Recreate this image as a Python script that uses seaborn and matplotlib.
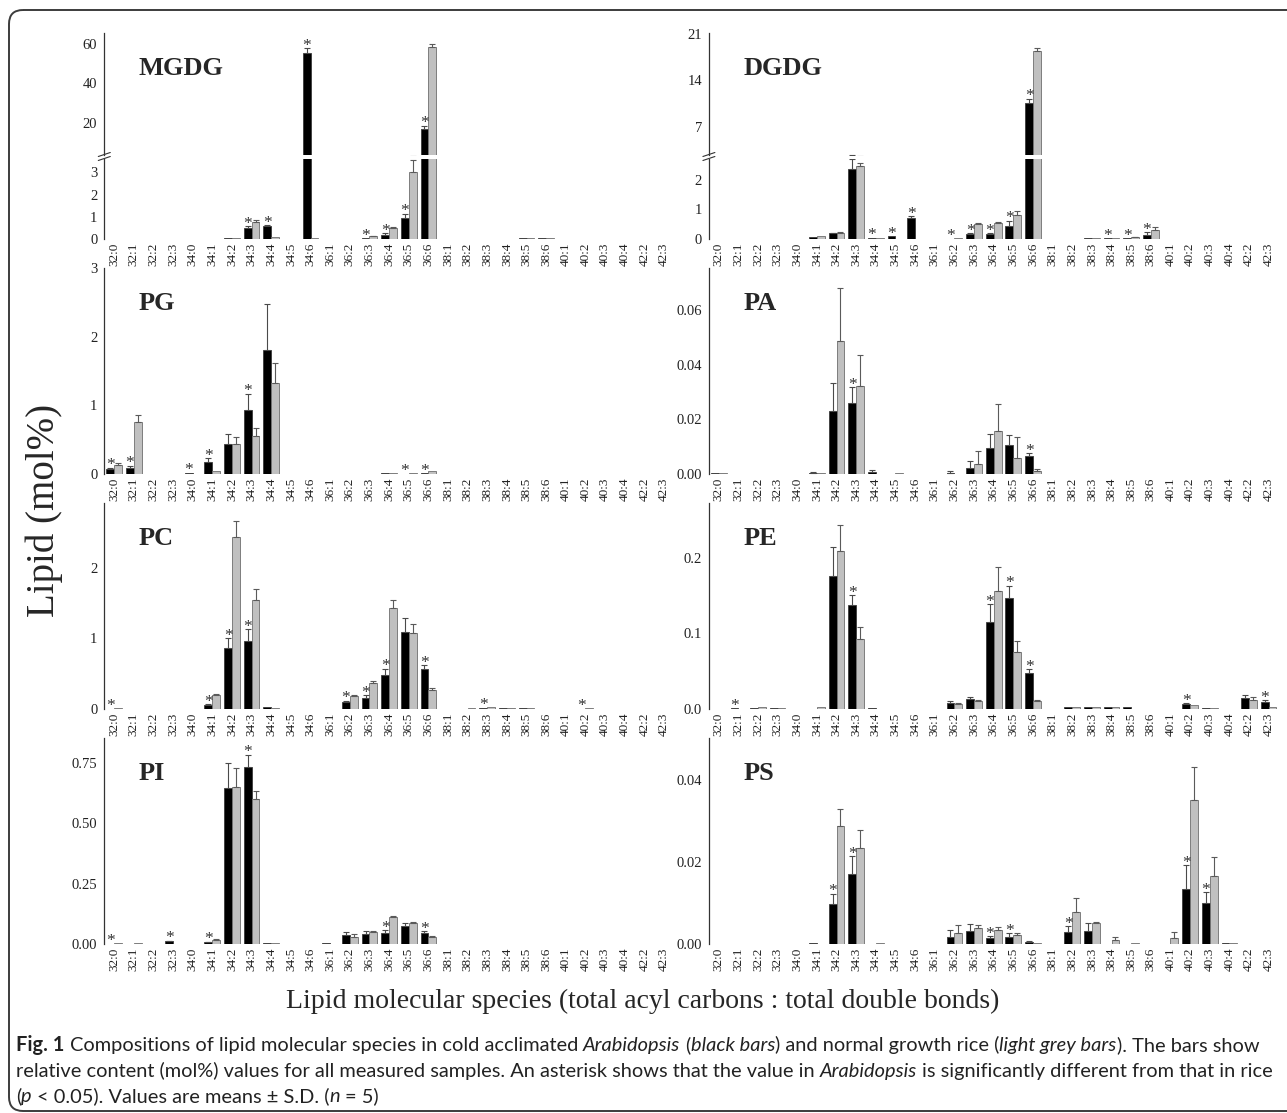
import numpy as np
import pandas as pd
import seaborn as sns
import matplotlib
matplotlib.use('Agg')
import matplotlib.pyplot as plt
from matplotlib.patches import FancyBboxPatch
from matplotlib.ticker import FormatStrFormatter

N = None

# =========================
#  DATA (mol%)
# =========================

CATEGORIES = ['32:0', '32:1', '32:2', '32:3',
              '34:0', '34:1', '34:2', '34:3', '34:4', '34:5', '34:6',
              '36:1', '36:2', '36:3', '36:4', '36:5', '36:6',
              '38:1', '38:2', '38:3', '38:4', '38:5', '38:6',
              '40:1', '40:2', '40:3', '40:4',
              '42:2', '42:3']
GROUPS = ['Arabidopsis', 'rice']

MGDG_ARA = [N, N, N, N, N, 0.02, 0.04, 0.49, 0.58, N, 55.1, 0.01, 0.01, 0.03, 0.17, 0.94, 17.1,
            N, N, 0.01, 0.02, 0.03, 0.03, N, N, N, N, N, N]
MGDG_ARA_SD = [0, 0, 0, 0, 0, 0, 0, 0.09, 0.05, 0, 2.5, 0, 0, 0, 0.08, 0.2, 1.6,
               0, 0, 0, 0, 0, 0, 0, 0, 0, 0, 0, 0]
MGDG_RICE = [N, N, N, N, N, 0.02, 0.03, 0.77, 0.1, 0.02, 0.03, 0.01, 0.02, 0.12, 0.5, 3.0, 58.3,
             N, N, 0.01, 0.01, 0.04, 0.04, N, N, N, N, N, N]
MGDG_RICE_SD = [0, 0, 0, 0, 0, 0, 0, 0.07, 0, 0, 0, 0, 0, 0.01, 0.02, 0.55, 1.7,
                0, 0, 0, 0, 0, 0, 0, 0, 0, 0, 0, 0]
MGDG_STARS = ['34:3', '34:4', '34:6', '36:3', '36:4', '36:5', '36:6']

DGDG_ARA = [N, N, N, N, N, 0.08, 0.19, 2.37, 0.05, 0.09, 0.70, 0.01, 0.01, 0.16, 0.16, 0.45, 10.5,
            N, N, 0.02, 0.02, 0.02, 0.14, N, N, N, N, N, N]
DGDG_ARA_SD = [0, 0, 0, 0, 0, 0, 0.01, 0.32, 0, 0, 0.06, 0, 0, 0.04, 0.04, 0.17, 0.7,
               0, 0, 0, 0, 0, 0.09, 0, 0, 0, 0, 0, 0]
DGDG_RICE = [N, N, N, N, N, 0.09, 0.2, 2.45, 0.04, N, 0.01, 0.01, 0.04, 0.52, 0.55, 0.81, 18.5,
             N, N, 0.03, 0.03, 0.06, 0.32, N, N, N, N, N, N]
DGDG_RICE_SD = [0, 0, 0, 0, 0, 0, 0.02, 0.11, 0, 0, 0, 0, 0, 0.01, 0.01, 0.15, 0.4,
                0, 0, 0, 0, 0.02, 0.1, 0, 0, 0, 0, 0, 0]
DGDG_STARS = ['34:4', '34:5', '34:6', '36:2', '36:3', '36:4', '36:5', '36:6', '38:4', '38:5', '38:6']

PG_ARA = [0.07, 0.09, N, N, 0.02, 0.18, 0.44, 0.93, 1.8, N, N, 0.005, 0.005, 0.005, 0.01, 0.005, 0.01,
          N, N, N, N, N, N, N, N, N, N, N, N]
PG_ARA_SD = [0.02, 0.03, 0, 0, 0, 0.05, 0.14, 0.24, 0.67, 0, 0, 0, 0, 0, 0, 0, 0,
             0, 0, 0, 0, 0, 0, 0, 0, 0, 0, 0, 0]
PG_RICE = [0.13, 0.76, N, N, 0.005, 0.05, 0.44, 0.55, 1.33, N, N, 0.005, 0.005, 0.005, 0.02, 0.015, 0.04,
           N, N, N, N, N, N, N, N, N, N, N, N]
PG_RICE_SD = [0.03, 0.1, 0, 0, 0, 0, 0.1, 0.12, 0.29, 0, 0, 0, 0, 0, 0, 0, 0,
              0, 0, 0, 0, 0, 0, 0, 0, 0, 0, 0, 0]
PG_STARS = ['32:0', '32:1', '34:0', '34:1', '34:3', '36:5', '36:6']

PA_ARA = [0.0002, N, N, N, N, 0.0005, 0.023, 0.0259, 0.0009, N, N, N, 0.0005, 0.0022, 0.0095, 0.0106, 0.0065,
          N, N, N, N, N, N, N, N, N, N, N, N]
PA_ARA_SD = [0, 0, 0, 0, 0, 0.0002, 0.0104, 0.0059, 0.0006, 0, 0, 0, 0.0007, 0.0025, 0.0053, 0.0036, 0.0011,
             0, 0, 0, 0, 0, 0, 0, 0, 0, 0, 0, 0]
PA_RICE = [0.0002, N, N, N, N, 0.0003, 0.0485, 0.0322, N, 0.0002, N, N, N, 0.0037, 0.0157, 0.006, 0.0011,
           N, N, N, N, N, N, N, N, N, N, N, N]
PA_RICE_SD = [0, 0, 0, 0, 0, 0, 0.0195, 0.0112, 0, 0, 0, 0, 0, 0.0048, 0.0098, 0.0076, 0.0009,
              0, 0, 0, 0, 0, 0, 0, 0, 0, 0, 0, 0]
PA_STARS = ['34:3', '36:6']

PC_ARA = [0.003, N, N, N, N, 0.06, 0.86, 0.97, 0.03, N, N, 0.005, 0.1, 0.16, 0.48, 1.09, 0.57,
          N, 0.005, 0.02, 0.015, 0.01, 0.005, N, 0.005, 0.005, 0.005, N, N]
PC_ARA_SD = [0, 0, 0, 0, 0, 0.01, 0.14, 0.16, 0, 0, 0, 0, 0.02, 0.04, 0.09, 0.2, 0.05,
             0, 0, 0, 0, 0, 0, 0, 0, 0, 0, 0, 0]
PC_RICE = [0.01, N, N, N, N, 0.2, 2.44, 1.55, 0.02, N, N, 0.005, 0.19, 0.37, 1.43, 1.075, 0.27,
           N, 0.02, 0.03, 0.015, 0.01, 0.005, N, 0.01, 0.005, 0.005, N, N]
PC_RICE_SD = [0, 0, 0, 0, 0, 0.01, 0.23, 0.15, 0, 0, 0, 0, 0.01, 0.03, 0.11, 0.125, 0.03,
              0, 0, 0, 0, 0, 0, 0, 0, 0, 0, 0, 0]
PC_STARS = ['32:0', '34:1', '34:2', '34:3', '36:2', '36:3', '36:4', '36:6', '38:3', '40:2']

PE_ARA = [0.0005, 0.001, 0.0008, 0.001, N, N, 0.175, 0.137, 0.0015, N, N, 0.0005, 0.008, 0.013, 0.115, 0.146, 0.047,
          N, 0.002, 0.002, 0.002, 0.002, 0.0005, N, 0.007, 0.0015, N, 0.014, 0.009]
PE_ARA_SD = [0, 0, 0, 0, 0, 0, 0.039, 0.013, 0, 0, 0, 0, 0.003, 0.003, 0.023, 0.017, 0.006,
             0, 0, 0, 0, 0, 0, 0, 0.001, 0, 0, 0.005, 0.003]
PE_RICE = [0.0005, 0.0005, 0.002, 0.0008, N, 0.002, 0.208, 0.092, 0.0005, N, N, 0.0005, 0.006, 0.011, 0.156, 0.075, 0.011,
           N, 0.002, 0.003, 0.002, 0.0005, 0.0005, N, 0.005, 0.001, N, 0.012, 0.002]
PE_RICE_SD = [0, 0, 0, 0, 0, 0, 0.035, 0.016, 0, 0, 0, 0, 0.002, 0.001, 0.031, 0.015, 0.001,
              0, 0, 0, 0, 0, 0, 0, 0, 0, 0, 0.004, 0]
PE_STARS = ['32:1', '34:3', '36:4', '36:5', '36:6', '40:2', '42:3']

PI_ARA = [0.001, 0.002, 0.001, 0.012, N, 0.007, 0.645, 0.733, 0.005, N, N, 0.004, 0.038, 0.042, 0.045, 0.074, 0.047,
          N, N, N, N, N, N, N, N, N, N, N, N]
PI_ARA_SD = [0, 0, 0, 0.002, 0, 0.002, 0.105, 0.05, 0, 0, 0, 0, 0.012, 0.011, 0.013, 0.011, 0.006,
             0, 0, 0, 0, 0, 0, 0, 0, 0, 0, 0, 0]
PI_RICE = [0.003, 0.003, 0.002, 0.002, N, 0.018, 0.65, 0.6, 0.005, N, N, 0.002, 0.03, 0.05, 0.11, 0.088, 0.03,
           N, N, N, N, N, N, N, N, N, N, N, N]
PI_RICE_SD = [0, 0, 0, 0, 0, 0.004, 0.078, 0.032, 0, 0, 0, 0, 0.01, 0.002, 0.007, 0.005, 0.005,
              0, 0, 0, 0, 0, 0, 0, 0, 0, 0, 0, 0]
PI_STARS = ['32:0', '32:3', '34:1', '34:3', '36:4', '36:6']

PS_ARA = [N, N, N, N, N, 0.0002, 0.0097, 0.0171, 0.0001, N, N, N, 0.0018, 0.0031, 0.0014, 0.0017, 0.0005,
          N, 0.0029, 0.0031, N, N, N, N, 0.0134, 0.0099, 0.0002, N, N]
PS_ARA_SD = [0, 0, 0, 0, 0, 0, 0.0026, 0.0043, 0, 0, 0, 0, 0.0015, 0.0018, 0.0005, 0.0009, 0.0003,
             0, 0.0015, 0.002, 0, 0, 0, 0, 0.0058, 0.0028, 0, 0, 0]
PS_RICE = [N, N, N, N, N, N, 0.0288, 0.0234, 0.0003, N, N, N, 0.0027, 0.0038, 0.0035, 0.0022, 0.0003,
           N, 0.0078, 0.005, 0.001, 0.0002, 0.0001, 0.0015, 0.0352, 0.0166, 0.0002, N, N]
PS_RICE_SD = [0, 0, 0, 0, 0, 0, 0.004, 0.0044, 0, 0, 0, 0, 0.002, 0.0008, 0.0007, 0.0004, 0,
              0, 0.0035, 0.0004, 0.0006, 0, 0, 0.0015, 0.0079, 0.0046, 0, 0, 0]
PS_STARS = ['34:2', '34:3', '36:4', '36:5', '38:2', '40:2', '40:3']

Y_LABEL = 'Lipid (mol%)'
X_LABEL = 'Lipid molecular species (total acyl carbons : total double bonds)'

# =========================
#  STYLE
# =========================

W, H = 1287, 1113
SERIF = ['Liberation Serif', 'DejaVu Serif']
SANS = ['Lato', 'DejaVu Sans']
PALETTE = {'Arabidopsis': '#000000', 'rice': '#c0c0c0'}
EDGES = {'Arabidopsis': '#3a3a3a', 'rice': '#6e6e6e'}

sns.set_style('white')
plt.rcParams['font.family'] = SERIF

fig = plt.figure(figsize=(W / 100, H / 100), dpi=100)

COL_X = [104.3, 708.9]
AX_W = 29 * 19.64
ROW_TOP = [33, 268, 503, 738]
ROW_H = 206


def px_axes(left, top, width, height):
    return fig.add_axes([left / W, 1 - (top + height) / H, width / W, height / H])


def draw_bars(ax, ara, ara_sd, rice, rice_sd):
    df = pd.DataFrame({
        'species': CATEGORIES * 2,
        'group': [GROUPS[0]] * len(CATEGORIES) + [GROUPS[1]] * len(CATEGORIES),
        'mol': [np.nan if v is None else v for v in ara + rice],
    }).dropna()
    sns.barplot(data=df, x='species', y='mol', hue='group', order=CATEGORIES,
                hue_order=GROUPS, palette=PALETTE, saturation=1, errorbar=None,
                width=0.8, legend=False, linewidth=0.6, ax=ax)
    for cont, g in zip(ax.containers, GROUPS):
        for bar in cont:
            bar.set_edgecolor(EDGES[g])

    for vals, sds, off, col in [(ara, ara_sd, -0.2, '#4a4a4a'), (rice, rice_sd, 0.2, '#5a5a5a')]:
        x = np.arange(len(CATEGORIES)) + off
        v = np.array([np.nan if a is None else a for a in vals], dtype=float)
        s = np.array(sds, dtype=float)
        m = ~np.isnan(v) & (s > 0)
        ax.errorbar(x[m], v[m], yerr=[np.zeros(m.sum()), s[m]], fmt='none',
                    ecolor=col, elinewidth=0.8, capsize=2.2, capthick=0.8, zorder=3)


def style_axis(ax, ylim, ticks, fmt, show_x=True):
    ax.set_xlim(-0.5, len(CATEGORIES) - 0.5)
    ax.set_ylim(*ylim)
    ax.set_yticks(ticks)
    ax.yaxis.set_major_formatter(FormatStrFormatter(fmt))
    for side in ['top', 'right', 'bottom']:
        ax.spines[side].set_visible(False)
    ax.spines['left'].set_linewidth(0.9)
    ax.spines['left'].set_color('#333333')
    ax.tick_params(axis='y', direction='out', length=3, width=0.8, pad=2,
                   labelsize=10.5, colors='#222222')
    ax.tick_params(axis='x', length=0, pad=2.5, labelsize=9.5, labelrotation=90,
                   labelbottom=show_x, colors='#222222')
    ax.set_xlabel('')
    ax.set_ylabel('')
    ax.set_facecolor('none')


def add_stars(axes, ara, ara_sd, stars):
    for lab in stars:
        i = CATEGORIES.index(lab)
        top = (ara[i] or 0) + ara_sd[i]
        target = axes[-1]
        for ax in axes:
            lo, hi = ax.get_ylim()
            if lo <= top < hi:
                target = ax
        target.annotate('*', xy=(i - 0.2, top), xytext=(0, -1.2), textcoords='offset points',
                        ha='center', va='baseline', fontsize=12.5, color='#333333',
                        family=SERIF, annotation_clip=False)


def add_title(ax, name, y=0.83):
    ax.text(0.06, y, name, transform=ax.transAxes, fontsize=19, fontweight='bold',
            family=SERIF, ha='left', va='center')


# =========================
#  BROKEN PANELS (MGDG, DGDG)
# =========================

broken = [
    (0, 'MGDG', MGDG_ARA, MGDG_ARA_SD, MGDG_RICE, MGDG_RICE_SD, MGDG_STARS,
     (3.9, 65.4), [20, 40, 60], (0, 3.6), [0, 1, 2, 3]),
    (1, 'DGDG', DGDG_ARA, DGDG_ARA_SD, DGDG_RICE, DGDG_RICE_SD, DGDG_STARS,
     (2.7, 21.15), [7, 14, 21], (0, 2.7), [0, 1, 2]),
]

for col, name, ara, ara_sd, rice, rice_sd, stars, up_lim, up_ticks, lo_lim, lo_ticks in broken:
    ax_up = px_axes(COL_X[col], 33, AX_W, 122)
    ax_lo = px_axes(COL_X[col], 159, AX_W, 80)
    for ax in (ax_up, ax_lo):
        draw_bars(ax, ara, ara_sd, rice, rice_sd)
    style_axis(ax_up, up_lim, up_ticks, '%.0f', show_x=False)
    style_axis(ax_lo, lo_lim, lo_ticks, '%.0f')
    add_stars([ax_lo, ax_up], ara, ara_sd, stars)
    add_title(ax_up, name, y=0.71)

# =========================
#  REGULAR PANELS
# =========================

regular = [
    (1, 0, 'PG', PG_ARA, PG_ARA_SD, PG_RICE, PG_RICE_SD, PG_STARS, (0, 3.0), [0, 1, 2, 3], '%.0f'),
    (1, 1, 'PA', PA_ARA, PA_ARA_SD, PA_RICE, PA_RICE_SD, PA_STARS, (0, 0.0754), [0, 0.02, 0.04, 0.06], '%.2f'),
    (2, 0, 'PC', PC_ARA, PC_ARA_SD, PC_RICE, PC_RICE_SD, PC_STARS, (0, 2.92), [0, 1, 2], '%.0f'),
    (2, 1, 'PE', PE_ARA, PE_ARA_SD, PE_RICE, PE_RICE_SD, PE_STARS, (0, 0.272), [0, 0.1, 0.2], '%.1f'),
    (3, 0, 'PI', PI_ARA, PI_ARA_SD, PI_RICE, PI_RICE_SD, PI_STARS, (0, 0.852), [0, 0.25, 0.5, 0.75], '%.2f'),
    (3, 1, 'PS', PS_ARA, PS_ARA_SD, PS_RICE, PS_RICE_SD, PS_STARS, (0, 0.0502), [0, 0.02, 0.04], '%.2f'),
]

for row, col, name, ara, ara_sd, rice, rice_sd, stars, ylim, ticks, fmt in regular:
    ax = px_axes(COL_X[col], ROW_TOP[row], AX_W, ROW_H)
    draw_bars(ax, ara, ara_sd, rice, rice_sd)
    style_axis(ax, ylim, ticks, fmt)
    add_stars([ax], ara, ara_sd, stars)
    add_title(ax, name)

# =========================
#  OVERLAY: FRAME, LABELS, CAPTION
# =========================

ov = fig.add_axes([0, 0, 1, 1], zorder=10)
ov.set_xlim(0, W)
ov.set_ylim(H, 0)
ov.axis('off')
ov.patch.set_alpha(0)

ov.add_patch(FancyBboxPatch((9, 10), 1300, 1101, boxstyle='round,pad=0,rounding_size=14',
                            fill=False, ec='#3c3c3c', lw=1.4, clip_on=False))

# break marks on the split axes
for x0 in COL_X:
    for dy in (0, 4):
        ov.plot([x0 - 6, x0 + 6], [156.5 + dy, 152.5 + dy], color='#333333', lw=0.8)

ov.text(44, 510, Y_LABEL, rotation=90, ha='center', va='center', fontsize=28, family=SERIF)
ov.text(643, 1008, X_LABEL, ha='center', va='baseline', fontsize=20, family=SERIF)

renderer = fig.canvas.get_renderer()
CAP_COLOR = '#222222'


def text_width(s, kw):
    t = ov.text(0, 0, s, **kw)
    w = t.get_window_extent(renderer).width
    t.remove()
    return w


def rich_line(x, y, parts, size, draw=True):
    x_start = x
    for txt, weight, style in parts:
        kw = dict(fontsize=size, fontweight=weight, fontstyle=style, family=SANS, color=CAP_COLOR)
        sp = text_width('a a', kw) - text_width('aa', kw)
        core = txt.strip(' ')
        lead = len(txt) - len(txt.lstrip(' '))
        trail = len(txt) - len(txt.rstrip(' '))
        x += lead * sp
        if draw:
            ov.text(x, y, core, ha='left', va='baseline', **kw)
        x += text_width(core, kw) + trail * sp
    return x - x_start


CAPTION = [
    [('Fig. 1', 'bold', 'normal'),
     (' Compositions of lipid molecular species in cold acclimated ', 'normal', 'normal'),
     ('Arabidopsis', 'normal', 'italic'), (' (', 'normal', 'normal'),
     ('black bars', 'normal', 'italic'), (') and normal growth rice (', 'normal', 'normal'),
     ('light grey bars', 'normal', 'italic'), ('). The bars show', 'normal', 'normal')],
    [('relative content (mol%) values for all measured samples. An asterisk shows that the value in ',
      'normal', 'normal'),
     ('Arabidopsis', 'normal', 'italic'),
     (' is significantly different from that in rice', 'normal', 'normal')],
    [('(', 'normal', 'normal'), ('p', 'normal', 'italic'),
     (' < 0.05). Values are means \u00b1 S.D. (', 'normal', 'normal'),
     ('n', 'normal', 'italic'), (' = 5)', 'normal', 'normal')],
]

base = 12
widest = max(rich_line(0, 0, line, base, draw=False) for line in CAPTION[:2])
cap_size = base * 1256 / widest
for line, y in zip(CAPTION, [1051, 1077, 1102]):
    rich_line(16, y, line, cap_size)

fig.savefig('out.png', dpi=100)
